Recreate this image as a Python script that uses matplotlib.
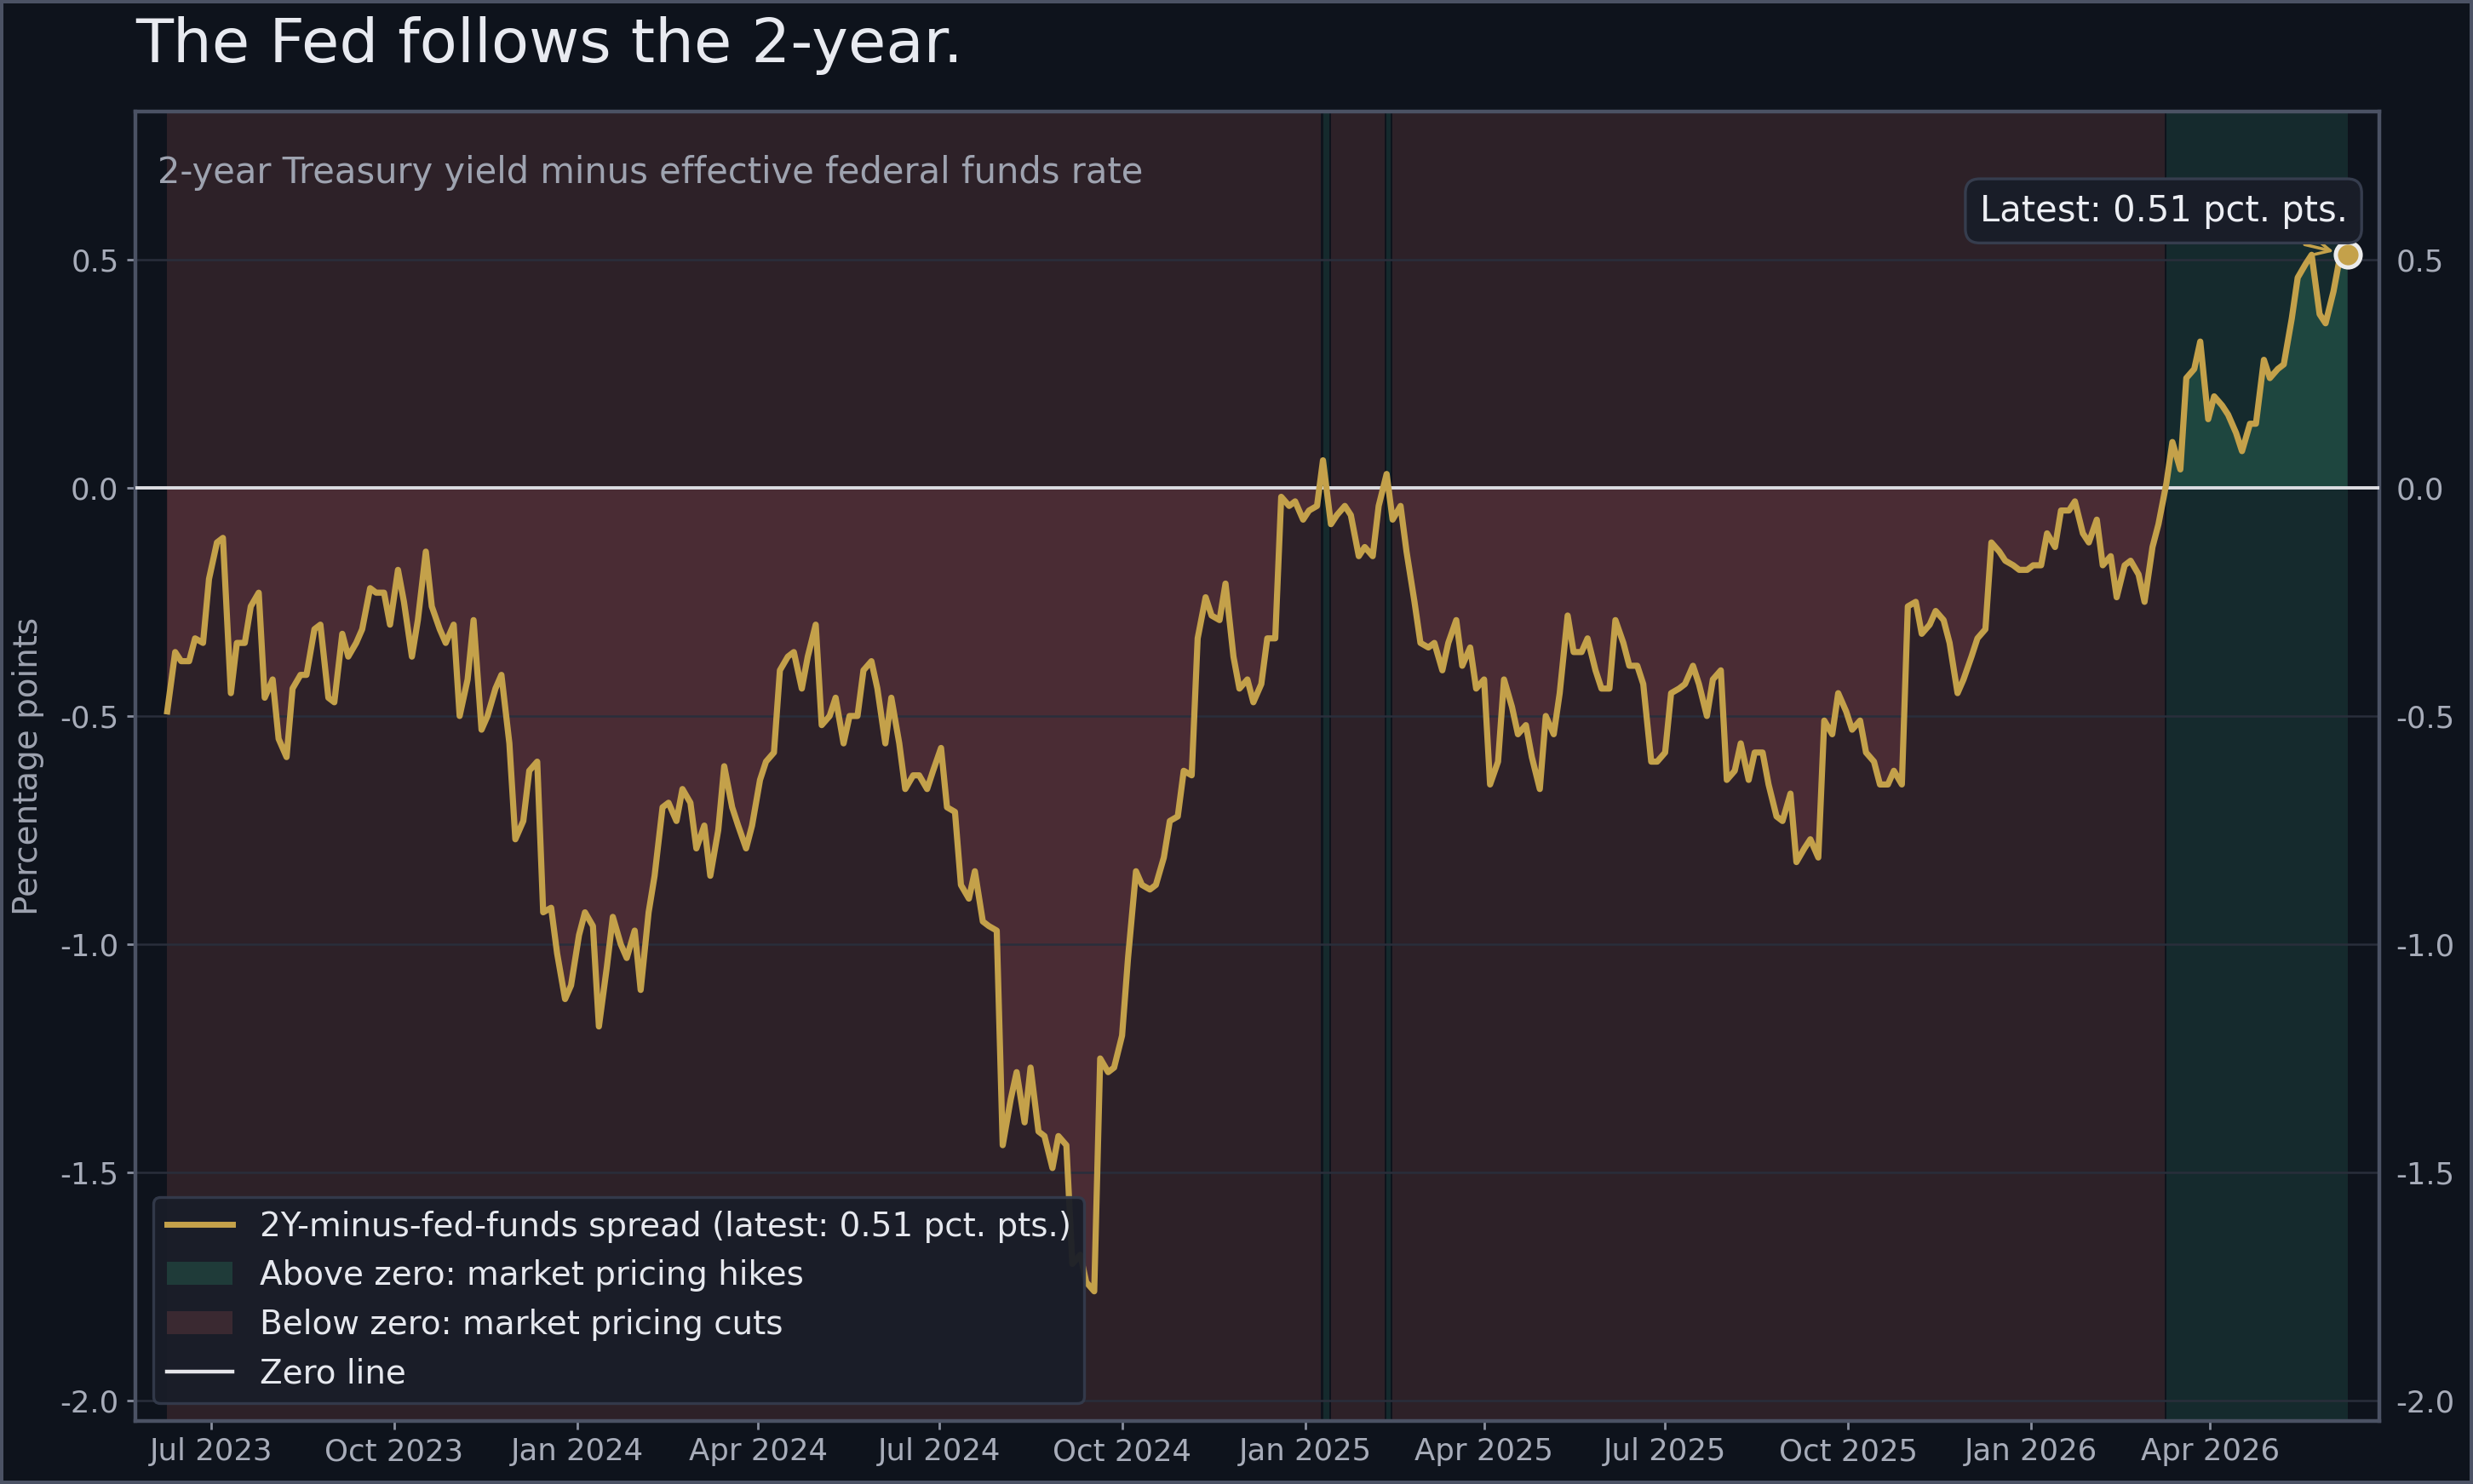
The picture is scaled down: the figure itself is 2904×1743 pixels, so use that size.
import matplotlib.pyplot as plt
import matplotlib.dates as mdates
from matplotlib.lines import Line2D
from matplotlib.patches import Patch
from matplotlib.ticker import FormatStrFormatter
import numpy as np
import pandas as pd

plt.rcParams["font.family"] = "DejaVu Sans"
plt.rcParams["axes.unicode_minus"] = False

spread_2023 = [
    -0.49, -0.36, -0.38, -0.38, -0.33, -0.34, -0.20, -0.12, -0.11, -0.45,
    -0.34, -0.34, -0.26, -0.23, -0.46, -0.42, -0.55, -0.59, -0.44, -0.41,
    -0.41, -0.31, -0.30, -0.46, -0.47, -0.32, -0.37, -0.34, -0.31, -0.22,
    -0.23, -0.23, -0.30, -0.18, -0.25, -0.37, -0.29, -0.14, -0.26, -0.31,
    -0.34, -0.30, -0.50, -0.42, -0.29, -0.53, -0.50, -0.44, -0.41, -0.56,
    -0.77, -0.73, -0.62, -0.60, -0.93, -0.92, -1.02, -1.12, -1.09,
]
spread_2024 = [
    -0.98,
    -0.93, -0.96, -1.18, -1.05, -0.94, -1.00, -1.03, -0.97, -1.10, -0.93,
    -0.85, -0.70, -0.69, -0.73, -0.66, -0.69, -0.79, -0.74, -0.85, -0.75,
    -0.61, -0.70, -0.74, -0.79, -0.74, -0.64, -0.60, -0.58, -0.40, -0.37,
    -0.36, -0.44, -0.37, -0.30, -0.52, -0.50, -0.46, -0.56, -0.50, -0.50,
    -0.40, -0.38, -0.44, -0.56, -0.46, -0.56, -0.66, -0.63, -0.63, -0.66,
    -0.62, -0.57, -0.70, -0.71, -0.87, -0.90, -0.84, -0.95, -0.96, -0.97,
    -1.44, -1.34, -1.28, -1.39, -1.27, -1.41, -1.42, -1.49, -1.42, -1.44,
    -1.70, -1.68, -1.74, -1.76, -1.25, -1.28, -1.27, -1.20, -1.03, -0.84,
    -0.87, -0.88, -0.87, -0.81, -0.73, -0.72, -0.62, -0.63, -0.33, -0.24,
    -0.28, -0.29, -0.21, -0.37, -0.44, -0.42, -0.47, -0.43, -0.33, -0.33,
    -0.02, -0.04, -0.03, -0.07,
]
spread_2025 = [
    -0.05, -0.04, 0.06, -0.08, -0.06, -0.04,
    -0.06, -0.15, -0.13, -0.15, -0.04, 0.03, -0.07, -0.04, -0.14, -0.25,
    -0.34, -0.35, -0.34, -0.40, -0.34, -0.29, -0.39, -0.35, -0.44, -0.42,
    -0.65, -0.60, -0.42, -0.48, -0.54, -0.52, -0.59, -0.66, -0.50, -0.54,
    -0.45, -0.28, -0.36, -0.36, -0.33, -0.40, -0.44, -0.44, -0.29, -0.34,
    -0.39, -0.39, -0.43, -0.60, -0.60, -0.58, -0.45, -0.44, -0.43, -0.39,
    -0.43, -0.50, -0.42, -0.40, -0.64, -0.62, -0.56, -0.64, -0.58, -0.58,
    -0.65, -0.72, -0.73, -0.67, -0.82, -0.79, -0.77, -0.81, -0.51, -0.54,
    -0.45, -0.49, -0.53, -0.51, -0.58, -0.60, -0.65, -0.65, -0.62, -0.65,
    -0.26, -0.25, -0.32, -0.30, -0.27, -0.29, -0.34, -0.45, -0.42, -0.37,
    -0.33, -0.31, -0.12, -0.14, -0.16, -0.17, -0.18, -0.18,
]
spread_2026 = [
    -0.17, -0.17,
    -0.10, -0.13, -0.05, -0.05, -0.03, -0.10, -0.12, -0.07, -0.17, -0.15,
    -0.24, -0.17, -0.16, -0.19, -0.25, -0.13, -0.08, 0.01, 0.10, 0.04,
    0.24, 0.26, 0.32, 0.15, 0.20, 0.18, 0.16, 0.12, 0.08, 0.14,
    0.14, 0.28, 0.24, 0.26, 0.27, 0.37, 0.46, 0.49, 0.51, 0.38,
    0.36, 0.43, 0.50, 0.51,
]

start, end = "2023-06-09", "2026-06-09"
dates = pd.date_range(start, end, freq="W-FRI").union(pd.date_range(start, end, freq="W-TUE"))
spread = np.array(spread_2023 + spread_2024 + spread_2025 + spread_2026)
latest = spread[-1]

BG = "#0e131c"
FRAME = "#4b5264"
GOLD = "#c4a14a"
RED_SPAN, RED_FILL = "#2d2128", "#4a2c34"
GREEN_SPAN, GREEN_FILL = "#152a2d", "#1e463f"
MUTED = "#9ea3b0"
TICK = "#a7acb9"
LIGHT = "#e8eaf0"

fig = plt.figure(figsize=(14.52, 8.715), dpi=200, facecolor=BG,
                 edgecolor=FRAME, linewidth=2.2)
ax = fig.add_axes([0.05475, 0.04246, 0.90735, 0.88215])
ax.set_facecolor(BG)

# regime spans: one per run of same sign, leaving a 1-day gap before the next run
pos = spread >= 0
n = len(spread)
s = 0
for i in range(1, n + 1):
    if i == n or pos[i] != pos[s]:
        x0 = dates[s]
        x1 = dates[i] - pd.Timedelta(days=1) if i < n else dates[i - 1]
        ax.axvspan(x0, x1, color=GREEN_SPAN if pos[s] else RED_SPAN, lw=0, zorder=0)
        s = i

ax.fill_between(dates, spread, 0, where=spread >= 0, interpolate=True,
                color=GREEN_FILL, lw=0, zorder=1)
ax.fill_between(dates, spread, 0, where=spread < 0, interpolate=True,
                color=RED_FILL, lw=0, zorder=1)

ax.axhline(0, color="#dcdde2", lw=1.4, zorder=3)
ax.plot(dates, spread, color=GOLD, lw=2.6, zorder=4)
ax.plot(dates[-1], latest, "o", ms=10.5, mfc=GOLD, mec="#ececec", mew=1.8, zorder=6)

ax.annotate(
    f"Latest: {latest:.2f} pct. pts.",
    xy=(dates[-1], latest),
    xytext=(0, 11),
    textcoords="offset points",
    ha="right",
    va="bottom",
    fontsize=15,
    color="#eceef3",
    bbox={"boxstyle": "round,pad=0.4", "fc": "#191d28", "ec": "#363d4e", "lw": 1.2},
    arrowprops={"arrowstyle": "->", "color": GOLD, "lw": 1.3, "shrinkB": 6},
    zorder=7,
)

ax.set_xlim(pd.Timestamp("2023-05-24"), pd.Timestamp("2026-06-25"))
ax.set_ylim(-2.044, 0.823)
ax.xaxis.set_major_locator(mdates.MonthLocator(bymonth=[1, 4, 7, 10]))
ax.xaxis.set_major_formatter(mdates.DateFormatter("%b %Y"))
ax.set_yticks([0.5, 0.0, -0.5, -1.0, -1.5, -2.0])
ax.yaxis.set_major_formatter(FormatStrFormatter("%.1f"))
ax.tick_params(colors="#8a90a0", labelcolor=TICK, labelsize=12.8, length=3.5, width=1)
ax.tick_params(axis="y", labelright=True, right=False)
ax.grid(axis="y", color="#292e3b", lw=0.9)
for sp in ax.spines.values():
    sp.set_color(FRAME)
    sp.set_linewidth(1.6)

ax.set_ylabel("Percentage points", fontsize=14, color=MUTED)
ax.yaxis.set_label_coords(-0.0405, 0.5)

ax.text(0.0098, 0.9457, "2-year Treasury yield minus effective federal funds rate",
        transform=ax.transAxes, fontsize=15, color=MUTED, va="baseline", zorder=5)
fig.text(0.05475, 1 - 73 / 1743, "The Fed follows the 2-year.",
         fontsize=26, color=LIGHT, va="baseline", ha="left")

handles = [
    Line2D([], [], color=GOLD, lw=2.5,
           label=f"2Y-minus-fed-funds spread (latest: {latest:.2f} pct. pts.)"),
    Patch(facecolor="#1f3b39", edgecolor="none", label="Above zero: market pricing hikes"),
    Patch(facecolor="#3a2931", edgecolor="none", label="Below zero: market pricing cuts"),
    Line2D([], [], color="#e6e6ea", lw=1.6, label="Zero line"),
]
leg = ax.legend(handles=handles, loc="lower left", bbox_to_anchor=(0.008, 0.0137),
                borderaxespad=0, fontsize=14, facecolor="#191d28", edgecolor="#343b4c",
                framealpha=0.95, labelcolor="#e6e8ee", handlelength=2.0)
leg.set_zorder(8)
leg.get_frame().set_linewidth(1.2)

fig.savefig("out.png", dpi=200, facecolor=BG, edgecolor=FRAME)
